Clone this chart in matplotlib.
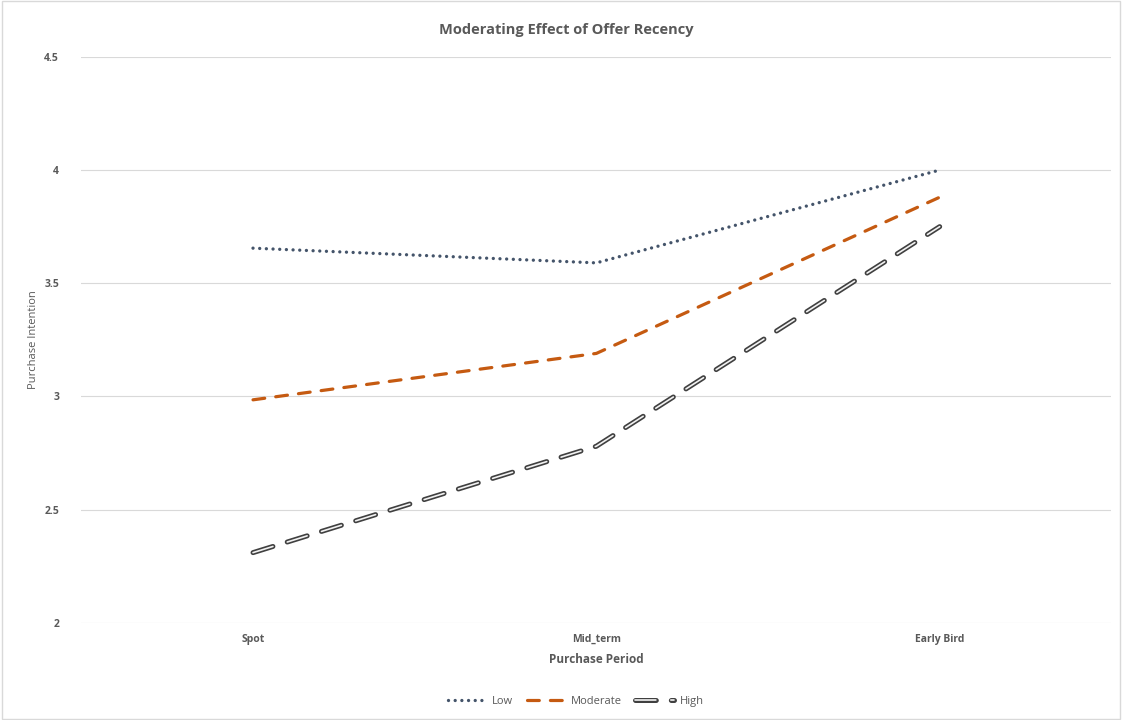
import matplotlib
matplotlib.use("Agg")
import matplotlib.pyplot as plt
from matplotlib.legend_handler import HandlerTuple

plt.rcParams['font.family'] = ['Open Sans', 'DejaVu Sans']
plt.rcParams['lines.scale_dashes'] = False

periods = ["Spot", "Mid_term", "Early Bird"]
low = [3.655, 3.59, 4.0]
moderate = [2.985, 3.19, 3.88]
high = [2.31, 2.78, 3.75]
yticks = [2, 2.5, 3, 3.5, 4, 4.5]
ytick_labels = ["2", "2.5", "3", "3.5", "4", "4.5"]

fig = plt.figure(figsize=(11.22, 7.2), dpi=100)
ax = fig.add_axes([0.0725, 0.135, 0.918, 0.786])

x = range(len(periods))
l1, = ax.plot(x, low, color='#44546A', linestyle=(0, (0.01, 4.8)), linewidth=2.4,
              dash_capstyle='round')
l2, = ax.plot(x, moderate, color='#C55A11', linestyle=(0, (8.5, 8)), linewidth=2.3,
              dash_capstyle='round')
# compound line: dark outer dash with a white core
l3a, = ax.plot(x, high, color='#404040', linestyle=(0, (15, 10.8)), linewidth=3.6,
               dash_capstyle='round')
l3b, = ax.plot(x, high, color='#F2F2F2', linestyle=(0, (15, 10.8)), linewidth=1.2,
               dash_capstyle='round')

ax.set_xlim(-0.5, 2.5)
ax.set_ylim(2, 4.5)
ax.set_xticks(list(x))
ax.set_xticklabels(periods, fontsize=7.5, color='#595959', fontweight='bold')
ax.set_yticks(yticks)
ax.set_yticklabels(ytick_labels, fontsize=7.5, color='#595959', fontweight='bold')
ax.tick_params(length=0, pad=16)
ax.tick_params(axis='x', pad=8)
ax.grid(axis='y', color='#D9D9D9', linewidth=0.8)
ax.set_axisbelow(True)
for s in ax.spines.values():
    s.set_visible(False)

fig.text(0.505, 0.958, "Moderating Effect of Offer Recency", fontsize=10.5,
         color='#595959', fontweight='bold', ha='center', va='center')
ax.set_xlabel("Purchase Period", fontsize=8.5, color='#595959', fontweight='bold',
              labelpad=6)
ax.set_ylabel("Purchase Intention", fontsize=8, color='#595959', labelpad=4)

ax.legend([l1, l2, (l3a, l3b)], ["Low", "Moderate", "High"],
          handler_map={tuple: HandlerTuple(ndivide=1, pad=0)},
          loc='upper center', bbox_to_anchor=(0.48, -0.112), ncol=3, frameon=False,
          fontsize=8, labelcolor='#595959', handlelength=3.5, columnspacing=1.2,
          handletextpad=0.5)

border = plt.Rectangle((0.002, 0.002), 0.996, 0.996, transform=fig.transFigure,
                       fill=False, edgecolor='#D9D9D9', linewidth=1)
fig.patches.append(border)

fig.savefig("out.png", dpi=100)
